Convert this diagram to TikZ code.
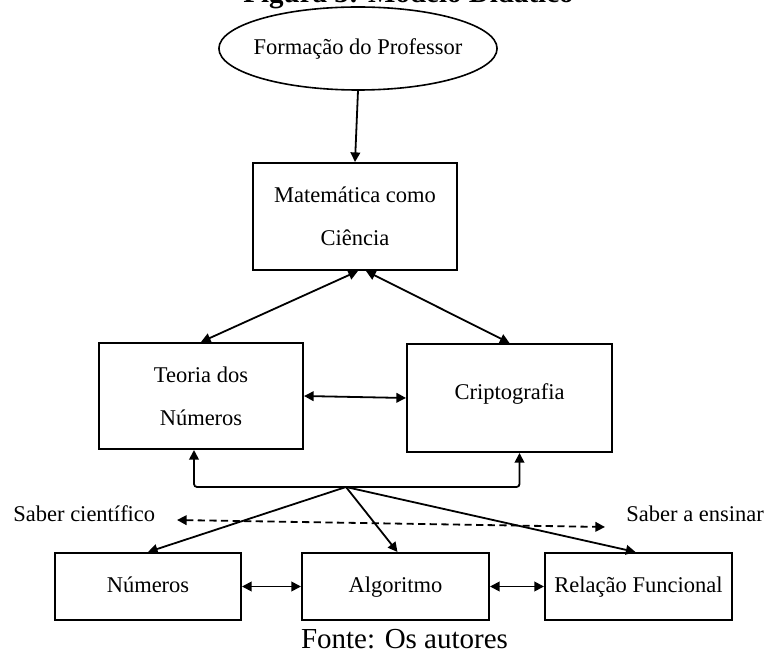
\documentclass[tikz,border=0pt]{standalone}
\usepackage{fontspec}
\setmainfont{Liberation Serif}
\usepackage{tikz}
\usetikzlibrary{arrows.meta, positioning, calc, shapes.geometric}

\newcommand{\diaglabel}{\fontsize{11.25}{21.5}\selectfont}
\newcommand{\diagbig}{\fontsize{14.5}{17}\selectfont}

\begin{document}
\begin{tikzpicture}[
    x=0.5pt, y=-0.5pt,
    >={Triangle[length=4.8pt,width=4.8pt]},
    arrow/.style={->,line width=0.9pt},
    link/.style={<->,line width=0.9pt},
    transp/.style={<->,line width=0.9pt,dash pattern=on 3.6pt off 2.2pt},
    concept/.style={rectangle,draw=black,line width=1pt,inner sep=0pt,font=\diaglabel,align=center},
    oneline/.style={text height=8.5pt,text depth=2pt},
    source/.style={ellipse,draw=black,line width=0.8pt,inner ysep=0pt,inner xsep=-3pt,minimum width=138pt,minimum height=41.5pt,font=\diaglabel},
    tag/.style={inner sep=0pt,font=\diaglabel,anchor=base west}
]
\useasboundingbox (0,0) rectangle (767,652);

%--------------------------------------------------------------------
% Title (cut at the top edge)
%--------------------------------------------------------------------
\node[font=\bfseries\diagbig,anchor=base west,inner sep=0pt] (titulo) at (243,3) {Figura 3: Modelo Didático};

%--------------------------------------------------------------------
% Top: teacher education and mathematics
%--------------------------------------------------------------------
\node[source] (form) at (358,48.5) {Formação do Professor};
\node[concept,minimum width=102pt,minimum height=53.5pt] (mat) at (355,216.5) {Matemática como\\Ciência};

\draw[arrow] (form.south) -- (mat.north);

%--------------------------------------------------------------------
% Middle: number theory and cryptography
%--------------------------------------------------------------------
\node[concept,minimum width=102pt,minimum height=53pt] (teoria) at (201,396) {Teoria dos\\Números};
\node[concept,oneline,text depth=6.5pt,minimum width=102.5pt,minimum height=54pt] (cripto) at (509.5,398) {Criptografia};

\draw[link] ([xshift=1.5pt]mat.south) -- (teoria.north);
\draw[link] ([xshift=5.5pt]mat.south) -- (cripto.north);
\draw[link] (teoria.east) -- (cripto.west);

% bracket joining both boxes
\coordinate (apex) at (346,487);
\draw[link,rounded corners=1.5pt] ([xshift=-3.5pt]teoria.south) |- (apex) -| ([xshift=5pt]cripto.south);

%--------------------------------------------------------------------
% Bottom: school contents
%--------------------------------------------------------------------
\node[concept,oneline,minimum width=93pt,minimum height=33.5pt] (num) at (148,586.5) {Números};
\node[concept,oneline,minimum width=93.5pt,minimum height=33.5pt] (alg) at (395.5,586.5) {Algoritmo};
\node[concept,oneline,minimum width=93.5pt,minimum height=33.5pt] (rel) at (638.5,586.5) {Relação Funcional};

\draw[arrow] (apex) -- (num.north);
\draw[arrow] (apex) -- ([xshift=1pt]alg.north);
\draw[arrow] (apex) -- ([xshift=-1.5pt]rel.north);

\draw[link] (num.east) -- (alg.west);
\draw[link] (alg.east) -- (rel.west);

%--------------------------------------------------------------------
% Didactic transposition
%--------------------------------------------------------------------
\node[tag] (cient) at (13,522) {Saber científico};
\node[tag] (ensin) at (626,522) {Saber a ensinar};

\coordinate (sl) at (177,520);
\coordinate (sr) at (605,527);
\draw[transp] (sl) -- (sr);

%--------------------------------------------------------------------
% Source
%--------------------------------------------------------------------
\node[font=\diagbig,anchor=base,inner sep=0pt] (fonte) at (404.5,648) {Fonte: Os autores};

\end{tikzpicture}
\end{document}
